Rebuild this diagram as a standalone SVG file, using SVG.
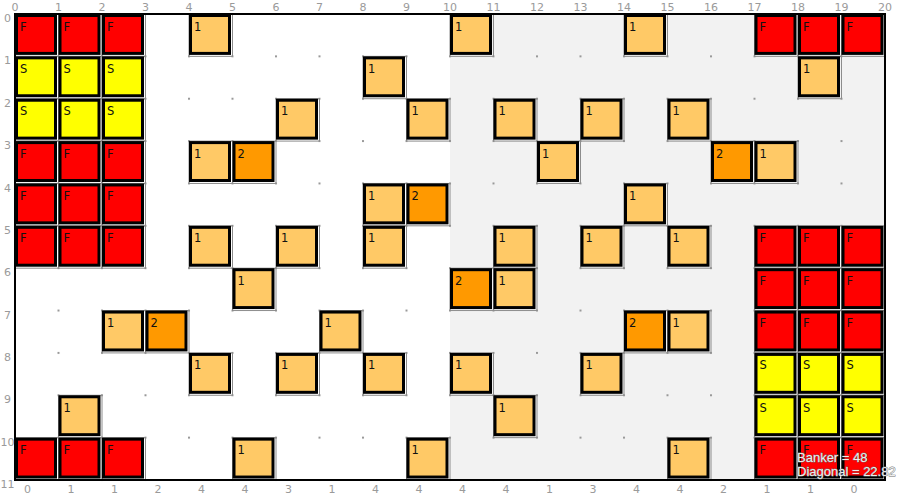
<svg xmlns="http://www.w3.org/2000/svg" width="900" height="495" viewBox="0 0 900 495">
<style>
.grid{fill:none;stroke:#8c8c8c;stroke-width:1}
.box{stroke:#000;stroke-width:3}
.f .box{fill:#ff0000}
.s .box{fill:#ffff00}
.o1 .box{fill:#ffc966}
.o2 .box{fill:#ff9900}
.cell text{font-family:"DejaVu Sans",Verdana,sans-serif;font-size:11.5px;fill:#111}
.lbl{font-family:"DejaVu Sans",Verdana,sans-serif;font-size:11px;fill:#9a9a9a;text-anchor:middle}
.info{font-family:"Liberation Sans",Arial,sans-serif;font-size:13px;fill:#eeeeee;stroke:#6e6e6e;stroke-width:0.8;paint-order:stroke}
</style>
<defs>
<pattern id="dots" patternUnits="userSpaceOnUse" x="14" y="13" width="43.5" height="42.3636">
<rect width="2" height="2" fill="#999"/>
</pattern>
</defs>
<rect width="900" height="495" fill="#fff"/>
<rect x="450" y="14" width="435" height="466" fill="#f2f2f2"/>
<rect x="13" y="12" width="876" height="472" fill="url(#dots)"/>
<g id="cells">
<!-- row 0 -->
<g id="r0c0" class="cell f" transform="translate(15,14)"><rect class="grid" width="43.5" height="42.36"/><rect class="box" x="1.5" y="1.5" width="39" height="37.9"/><text x="5" y="16.5">F</text></g>
<g id="r0c1" class="cell f" transform="translate(58.5,14)"><rect class="grid" width="43.5" height="42.36"/><rect class="box" x="1.5" y="1.5" width="39" height="37.9"/><text x="5" y="16.5">F</text></g>
<g id="r0c2" class="cell f" transform="translate(102,14)"><rect class="grid" width="43.5" height="42.36"/><rect class="box" x="1.5" y="1.5" width="39" height="37.9"/><text x="5" y="16.5">F</text></g>
<g id="r0c4" class="cell o1" transform="translate(189,14)"><rect class="grid" width="43.5" height="42.36"/><rect class="box" x="1.5" y="1.5" width="39" height="37.9"/><text x="5" y="16.5">1</text></g>
<g id="r0c10" class="cell o1" transform="translate(450,14)"><rect class="grid" width="43.5" height="42.36"/><rect class="box" x="1.5" y="1.5" width="39" height="37.9"/><text x="5" y="16.5">1</text></g>
<g id="r0c14" class="cell o1" transform="translate(624,14)"><rect class="grid" width="43.5" height="42.36"/><rect class="box" x="1.5" y="1.5" width="39" height="37.9"/><text x="5" y="16.5">1</text></g>
<g id="r0c17" class="cell f" transform="translate(754.5,14)"><rect class="grid" width="43.5" height="42.36"/><rect class="box" x="1.5" y="1.5" width="39" height="37.9"/><text x="5" y="16.5">F</text></g>
<g id="r0c18" class="cell f" transform="translate(798,14)"><rect class="grid" width="43.5" height="42.36"/><rect class="box" x="1.5" y="1.5" width="39" height="37.9"/><text x="5" y="16.5">F</text></g>
<g id="r0c19" class="cell f" transform="translate(841.5,14)"><rect class="grid" width="43.5" height="42.36"/><rect class="box" x="1.5" y="1.5" width="39" height="37.9"/><text x="5" y="16.5">F</text></g>
<!-- row 1 -->
<g id="r1c0" class="cell s" transform="translate(15,56.36)"><rect class="grid" width="43.5" height="42.36"/><rect class="box" x="1.5" y="1.5" width="39" height="37.9"/><text x="5" y="16.5">S</text></g>
<g id="r1c1" class="cell s" transform="translate(58.5,56.36)"><rect class="grid" width="43.5" height="42.36"/><rect class="box" x="1.5" y="1.5" width="39" height="37.9"/><text x="5" y="16.5">S</text></g>
<g id="r1c2" class="cell s" transform="translate(102,56.36)"><rect class="grid" width="43.5" height="42.36"/><rect class="box" x="1.5" y="1.5" width="39" height="37.9"/><text x="5" y="16.5">S</text></g>
<g id="r1c8" class="cell o1" transform="translate(363,56.36)"><rect class="grid" width="43.5" height="42.36"/><rect class="box" x="1.5" y="1.5" width="39" height="37.9"/><text x="5" y="16.5">1</text></g>
<g id="r1c18" class="cell o1" transform="translate(798,56.36)"><rect class="grid" width="43.5" height="42.36"/><rect class="box" x="1.5" y="1.5" width="39" height="37.9"/><text x="5" y="16.5">1</text></g>
<!-- row 2 -->
<g id="r2c0" class="cell s" transform="translate(15,98.73)"><rect class="grid" width="43.5" height="42.36"/><rect class="box" x="1.5" y="1.5" width="39" height="37.9"/><text x="5" y="16.5">S</text></g>
<g id="r2c1" class="cell s" transform="translate(58.5,98.73)"><rect class="grid" width="43.5" height="42.36"/><rect class="box" x="1.5" y="1.5" width="39" height="37.9"/><text x="5" y="16.5">S</text></g>
<g id="r2c2" class="cell s" transform="translate(102,98.73)"><rect class="grid" width="43.5" height="42.36"/><rect class="box" x="1.5" y="1.5" width="39" height="37.9"/><text x="5" y="16.5">S</text></g>
<g id="r2c6" class="cell o1" transform="translate(276,98.73)"><rect class="grid" width="43.5" height="42.36"/><rect class="box" x="1.5" y="1.5" width="39" height="37.9"/><text x="5" y="16.5">1</text></g>
<g id="r2c9" class="cell o1" transform="translate(406.5,98.73)"><rect class="grid" width="43.5" height="42.36"/><rect class="box" x="1.5" y="1.5" width="39" height="37.9"/><text x="5" y="16.5">1</text></g>
<g id="r2c11" class="cell o1" transform="translate(493.5,98.73)"><rect class="grid" width="43.5" height="42.36"/><rect class="box" x="1.5" y="1.5" width="39" height="37.9"/><text x="5" y="16.5">1</text></g>
<g id="r2c13" class="cell o1" transform="translate(580.5,98.73)"><rect class="grid" width="43.5" height="42.36"/><rect class="box" x="1.5" y="1.5" width="39" height="37.9"/><text x="5" y="16.5">1</text></g>
<g id="r2c15" class="cell o1" transform="translate(667.5,98.73)"><rect class="grid" width="43.5" height="42.36"/><rect class="box" x="1.5" y="1.5" width="39" height="37.9"/><text x="5" y="16.5">1</text></g>
<!-- row 3 -->
<g id="r3c0" class="cell f" transform="translate(15,141.09)"><rect class="grid" width="43.5" height="42.36"/><rect class="box" x="1.5" y="1.5" width="39" height="37.9"/><text x="5" y="16.5">F</text></g>
<g id="r3c1" class="cell f" transform="translate(58.5,141.09)"><rect class="grid" width="43.5" height="42.36"/><rect class="box" x="1.5" y="1.5" width="39" height="37.9"/><text x="5" y="16.5">F</text></g>
<g id="r3c2" class="cell f" transform="translate(102,141.09)"><rect class="grid" width="43.5" height="42.36"/><rect class="box" x="1.5" y="1.5" width="39" height="37.9"/><text x="5" y="16.5">F</text></g>
<g id="r3c4" class="cell o1" transform="translate(189,141.09)"><rect class="grid" width="43.5" height="42.36"/><rect class="box" x="1.5" y="1.5" width="39" height="37.9"/><text x="5" y="16.5">1</text></g>
<g id="r3c5" class="cell o2" transform="translate(232.5,141.09)"><rect class="grid" width="43.5" height="42.36"/><rect class="box" x="1.5" y="1.5" width="39" height="37.9"/><text x="5" y="16.5">2</text></g>
<g id="r3c12" class="cell o1" transform="translate(537,141.09)"><rect class="grid" width="43.5" height="42.36"/><rect class="box" x="1.5" y="1.5" width="39" height="37.9"/><text x="5" y="16.5">1</text></g>
<g id="r3c16" class="cell o2" transform="translate(711,141.09)"><rect class="grid" width="43.5" height="42.36"/><rect class="box" x="1.5" y="1.5" width="39" height="37.9"/><text x="5" y="16.5">2</text></g>
<g id="r3c17" class="cell o1" transform="translate(754.5,141.09)"><rect class="grid" width="43.5" height="42.36"/><rect class="box" x="1.5" y="1.5" width="39" height="37.9"/><text x="5" y="16.5">1</text></g>
<!-- row 4 -->
<g id="r4c0" class="cell f" transform="translate(15,183.45)"><rect class="grid" width="43.5" height="42.36"/><rect class="box" x="1.5" y="1.5" width="39" height="37.9"/><text x="5" y="16.5">F</text></g>
<g id="r4c1" class="cell f" transform="translate(58.5,183.45)"><rect class="grid" width="43.5" height="42.36"/><rect class="box" x="1.5" y="1.5" width="39" height="37.9"/><text x="5" y="16.5">F</text></g>
<g id="r4c2" class="cell f" transform="translate(102,183.45)"><rect class="grid" width="43.5" height="42.36"/><rect class="box" x="1.5" y="1.5" width="39" height="37.9"/><text x="5" y="16.5">F</text></g>
<g id="r4c8" class="cell o1" transform="translate(363,183.45)"><rect class="grid" width="43.5" height="42.36"/><rect class="box" x="1.5" y="1.5" width="39" height="37.9"/><text x="5" y="16.5">1</text></g>
<g id="r4c9" class="cell o2" transform="translate(406.5,183.45)"><rect class="grid" width="43.5" height="42.36"/><rect class="box" x="1.5" y="1.5" width="39" height="37.9"/><text x="5" y="16.5">2</text></g>
<g id="r4c14" class="cell o1" transform="translate(624,183.45)"><rect class="grid" width="43.5" height="42.36"/><rect class="box" x="1.5" y="1.5" width="39" height="37.9"/><text x="5" y="16.5">1</text></g>
<!-- row 5 -->
<g id="r5c0" class="cell f" transform="translate(15,225.82)"><rect class="grid" width="43.5" height="42.36"/><rect class="box" x="1.5" y="1.5" width="39" height="37.9"/><text x="5" y="16.5">F</text></g>
<g id="r5c1" class="cell f" transform="translate(58.5,225.82)"><rect class="grid" width="43.5" height="42.36"/><rect class="box" x="1.5" y="1.5" width="39" height="37.9"/><text x="5" y="16.5">F</text></g>
<g id="r5c2" class="cell f" transform="translate(102,225.82)"><rect class="grid" width="43.5" height="42.36"/><rect class="box" x="1.5" y="1.5" width="39" height="37.9"/><text x="5" y="16.5">F</text></g>
<g id="r5c4" class="cell o1" transform="translate(189,225.82)"><rect class="grid" width="43.5" height="42.36"/><rect class="box" x="1.5" y="1.5" width="39" height="37.9"/><text x="5" y="16.5">1</text></g>
<g id="r5c6" class="cell o1" transform="translate(276,225.82)"><rect class="grid" width="43.5" height="42.36"/><rect class="box" x="1.5" y="1.5" width="39" height="37.9"/><text x="5" y="16.5">1</text></g>
<g id="r5c8" class="cell o1" transform="translate(363,225.82)"><rect class="grid" width="43.5" height="42.36"/><rect class="box" x="1.5" y="1.5" width="39" height="37.9"/><text x="5" y="16.5">1</text></g>
<g id="r5c11" class="cell o1" transform="translate(493.5,225.82)"><rect class="grid" width="43.5" height="42.36"/><rect class="box" x="1.5" y="1.5" width="39" height="37.9"/><text x="5" y="16.5">1</text></g>
<g id="r5c13" class="cell o1" transform="translate(580.5,225.82)"><rect class="grid" width="43.5" height="42.36"/><rect class="box" x="1.5" y="1.5" width="39" height="37.9"/><text x="5" y="16.5">1</text></g>
<g id="r5c15" class="cell o1" transform="translate(667.5,225.82)"><rect class="grid" width="43.5" height="42.36"/><rect class="box" x="1.5" y="1.5" width="39" height="37.9"/><text x="5" y="16.5">1</text></g>
<g id="r5c17" class="cell f" transform="translate(754.5,225.82)"><rect class="grid" width="43.5" height="42.36"/><rect class="box" x="1.5" y="1.5" width="39" height="37.9"/><text x="5" y="16.5">F</text></g>
<g id="r5c18" class="cell f" transform="translate(798,225.82)"><rect class="grid" width="43.5" height="42.36"/><rect class="box" x="1.5" y="1.5" width="39" height="37.9"/><text x="5" y="16.5">F</text></g>
<g id="r5c19" class="cell f" transform="translate(841.5,225.82)"><rect class="grid" width="43.5" height="42.36"/><rect class="box" x="1.5" y="1.5" width="39" height="37.9"/><text x="5" y="16.5">F</text></g>
<!-- row 6 -->
<g id="r6c5" class="cell o1" transform="translate(232.5,268.18)"><rect class="grid" width="43.5" height="42.36"/><rect class="box" x="1.5" y="1.5" width="39" height="37.9"/><text x="5" y="16.5">1</text></g>
<g id="r6c10" class="cell o2" transform="translate(450,268.18)"><rect class="grid" width="43.5" height="42.36"/><rect class="box" x="1.5" y="1.5" width="39" height="37.9"/><text x="5" y="16.5">2</text></g>
<g id="r6c11" class="cell o1" transform="translate(493.5,268.18)"><rect class="grid" width="43.5" height="42.36"/><rect class="box" x="1.5" y="1.5" width="39" height="37.9"/><text x="5" y="16.5">1</text></g>
<g id="r6c17" class="cell f" transform="translate(754.5,268.18)"><rect class="grid" width="43.5" height="42.36"/><rect class="box" x="1.5" y="1.5" width="39" height="37.9"/><text x="5" y="16.5">F</text></g>
<g id="r6c18" class="cell f" transform="translate(798,268.18)"><rect class="grid" width="43.5" height="42.36"/><rect class="box" x="1.5" y="1.5" width="39" height="37.9"/><text x="5" y="16.5">F</text></g>
<g id="r6c19" class="cell f" transform="translate(841.5,268.18)"><rect class="grid" width="43.5" height="42.36"/><rect class="box" x="1.5" y="1.5" width="39" height="37.9"/><text x="5" y="16.5">F</text></g>
<!-- row 7 -->
<g id="r7c2" class="cell o1" transform="translate(102,310.55)"><rect class="grid" width="43.5" height="42.36"/><rect class="box" x="1.5" y="1.5" width="39" height="37.9"/><text x="5" y="16.5">1</text></g>
<g id="r7c3" class="cell o2" transform="translate(145.5,310.55)"><rect class="grid" width="43.5" height="42.36"/><rect class="box" x="1.5" y="1.5" width="39" height="37.9"/><text x="5" y="16.5">2</text></g>
<g id="r7c7" class="cell o1" transform="translate(319.5,310.55)"><rect class="grid" width="43.5" height="42.36"/><rect class="box" x="1.5" y="1.5" width="39" height="37.9"/><text x="5" y="16.5">1</text></g>
<g id="r7c14" class="cell o2" transform="translate(624,310.55)"><rect class="grid" width="43.5" height="42.36"/><rect class="box" x="1.5" y="1.5" width="39" height="37.9"/><text x="5" y="16.5">2</text></g>
<g id="r7c15" class="cell o1" transform="translate(667.5,310.55)"><rect class="grid" width="43.5" height="42.36"/><rect class="box" x="1.5" y="1.5" width="39" height="37.9"/><text x="5" y="16.5">1</text></g>
<g id="r7c17" class="cell f" transform="translate(754.5,310.55)"><rect class="grid" width="43.5" height="42.36"/><rect class="box" x="1.5" y="1.5" width="39" height="37.9"/><text x="5" y="16.5">F</text></g>
<g id="r7c18" class="cell f" transform="translate(798,310.55)"><rect class="grid" width="43.5" height="42.36"/><rect class="box" x="1.5" y="1.5" width="39" height="37.9"/><text x="5" y="16.5">F</text></g>
<g id="r7c19" class="cell f" transform="translate(841.5,310.55)"><rect class="grid" width="43.5" height="42.36"/><rect class="box" x="1.5" y="1.5" width="39" height="37.9"/><text x="5" y="16.5">F</text></g>
<!-- row 8 -->
<g id="r8c4" class="cell o1" transform="translate(189,352.91)"><rect class="grid" width="43.5" height="42.36"/><rect class="box" x="1.5" y="1.5" width="39" height="37.9"/><text x="5" y="16.5">1</text></g>
<g id="r8c6" class="cell o1" transform="translate(276,352.91)"><rect class="grid" width="43.5" height="42.36"/><rect class="box" x="1.5" y="1.5" width="39" height="37.9"/><text x="5" y="16.5">1</text></g>
<g id="r8c8" class="cell o1" transform="translate(363,352.91)"><rect class="grid" width="43.5" height="42.36"/><rect class="box" x="1.5" y="1.5" width="39" height="37.9"/><text x="5" y="16.5">1</text></g>
<g id="r8c10" class="cell o1" transform="translate(450,352.91)"><rect class="grid" width="43.5" height="42.36"/><rect class="box" x="1.5" y="1.5" width="39" height="37.9"/><text x="5" y="16.5">1</text></g>
<g id="r8c13" class="cell o1" transform="translate(580.5,352.91)"><rect class="grid" width="43.5" height="42.36"/><rect class="box" x="1.5" y="1.5" width="39" height="37.9"/><text x="5" y="16.5">1</text></g>
<g id="r8c17" class="cell s" transform="translate(754.5,352.91)"><rect class="grid" width="43.5" height="42.36"/><rect class="box" x="1.5" y="1.5" width="39" height="37.9"/><text x="5" y="16.5">S</text></g>
<g id="r8c18" class="cell s" transform="translate(798,352.91)"><rect class="grid" width="43.5" height="42.36"/><rect class="box" x="1.5" y="1.5" width="39" height="37.9"/><text x="5" y="16.5">S</text></g>
<g id="r8c19" class="cell s" transform="translate(841.5,352.91)"><rect class="grid" width="43.5" height="42.36"/><rect class="box" x="1.5" y="1.5" width="39" height="37.9"/><text x="5" y="16.5">S</text></g>
<!-- row 9 -->
<g id="r9c1" class="cell o1" transform="translate(58.5,395.27)"><rect class="grid" width="43.5" height="42.36"/><rect class="box" x="1.5" y="1.5" width="39" height="37.9"/><text x="5" y="16.5">1</text></g>
<g id="r9c11" class="cell o1" transform="translate(493.5,395.27)"><rect class="grid" width="43.5" height="42.36"/><rect class="box" x="1.5" y="1.5" width="39" height="37.9"/><text x="5" y="16.5">1</text></g>
<g id="r9c17" class="cell s" transform="translate(754.5,395.27)"><rect class="grid" width="43.5" height="42.36"/><rect class="box" x="1.5" y="1.5" width="39" height="37.9"/><text x="5" y="16.5">S</text></g>
<g id="r9c18" class="cell s" transform="translate(798,395.27)"><rect class="grid" width="43.5" height="42.36"/><rect class="box" x="1.5" y="1.5" width="39" height="37.9"/><text x="5" y="16.5">S</text></g>
<g id="r9c19" class="cell s" transform="translate(841.5,395.27)"><rect class="grid" width="43.5" height="42.36"/><rect class="box" x="1.5" y="1.5" width="39" height="37.9"/><text x="5" y="16.5">S</text></g>
<!-- row 10 -->
<g id="r10c0" class="cell f" transform="translate(15,437.64)"><rect class="grid" width="43.5" height="42.36"/><rect class="box" x="1.5" y="1.5" width="39" height="37.9"/><text x="5" y="16.5">F</text></g>
<g id="r10c1" class="cell f" transform="translate(58.5,437.64)"><rect class="grid" width="43.5" height="42.36"/><rect class="box" x="1.5" y="1.5" width="39" height="37.9"/><text x="5" y="16.5">F</text></g>
<g id="r10c2" class="cell f" transform="translate(102,437.64)"><rect class="grid" width="43.5" height="42.36"/><rect class="box" x="1.5" y="1.5" width="39" height="37.9"/><text x="5" y="16.5">F</text></g>
<g id="r10c5" class="cell o1" transform="translate(232.5,437.64)"><rect class="grid" width="43.5" height="42.36"/><rect class="box" x="1.5" y="1.5" width="39" height="37.9"/><text x="5" y="16.5">1</text></g>
<g id="r10c9" class="cell o1" transform="translate(406.5,437.64)"><rect class="grid" width="43.5" height="42.36"/><rect class="box" x="1.5" y="1.5" width="39" height="37.9"/><text x="5" y="16.5">1</text></g>
<g id="r10c15" class="cell o1" transform="translate(667.5,437.64)"><rect class="grid" width="43.5" height="42.36"/><rect class="box" x="1.5" y="1.5" width="39" height="37.9"/><text x="5" y="16.5">1</text></g>
<g id="r10c17" class="cell f" transform="translate(754.5,437.64)"><rect class="grid" width="43.5" height="42.36"/><rect class="box" x="1.5" y="1.5" width="39" height="37.9"/><text x="5" y="16.5">F</text></g>
<g id="r10c18" class="cell f" transform="translate(798,437.64)"><rect class="grid" width="43.5" height="42.36"/><rect class="box" x="1.5" y="1.5" width="39" height="37.9"/><text x="5" y="16.5">F</text></g>
<g id="r10c19" class="cell f" transform="translate(841.5,437.64)"><rect class="grid" width="43.5" height="42.36"/><rect class="box" x="1.5" y="1.5" width="39" height="37.9"/><text x="5" y="16.5">F</text></g>
</g>
<rect id="border" x="15" y="14" width="870" height="466" fill="none" stroke="#000" stroke-width="2"/>
<g id="col-labels" class="lbl">
<text x="15" y="11">0</text><text x="58.5" y="11">1</text><text x="102" y="11">2</text><text x="145.5" y="11">3</text><text x="189" y="11">4</text><text x="232.5" y="11">5</text><text x="276" y="11">6</text><text x="319.5" y="11">7</text><text x="363" y="11">8</text><text x="406.5" y="11">9</text><text x="450" y="11">10</text><text x="493.5" y="11">11</text><text x="537" y="11">12</text><text x="580.5" y="11">13</text><text x="624" y="11">14</text><text x="667.5" y="11">15</text><text x="711" y="11">16</text><text x="754.5" y="11">17</text><text x="798" y="11">18</text><text x="841.5" y="11">19</text><text x="885" y="11">20</text>
</g>
<g id="row-labels" class="lbl">
<text x="7.5" y="22">0</text><text x="7.5" y="64.4">1</text><text x="7.5" y="106.7">2</text><text x="7.5" y="149.1">3</text><text x="7.5" y="191.5">4</text><text x="7.5" y="233.8">5</text><text x="7.5" y="276.2">6</text><text x="7.5" y="318.5">7</text><text x="7.5" y="360.9">8</text><text x="7.5" y="403.3">9</text><text x="7.5" y="445.6">10</text><text x="7.5" y="488">11</text>
</g>
<g id="count-labels" class="lbl">
<text x="27.5" y="493">0</text><text x="71" y="493">1</text><text x="114.5" y="493">1</text><text x="158" y="493">2</text><text x="201.5" y="493">4</text><text x="245" y="493">4</text><text x="288.5" y="493">3</text><text x="332" y="493">1</text><text x="375.5" y="493">4</text><text x="419" y="493">4</text><text x="462.5" y="493">4</text><text x="506" y="493">4</text><text x="549.5" y="493">1</text><text x="593" y="493">3</text><text x="636.5" y="493">4</text><text x="680" y="493">4</text><text x="723.5" y="493">2</text><text x="767" y="493">1</text><text x="810.5" y="493">1</text><text x="854" y="493">0</text>
</g>
<g id="info" class="info">
<text x="797" y="462">Banker = 48</text>
<text x="797" y="476">Diagonal = 22.82</text>
</g>
</svg>
